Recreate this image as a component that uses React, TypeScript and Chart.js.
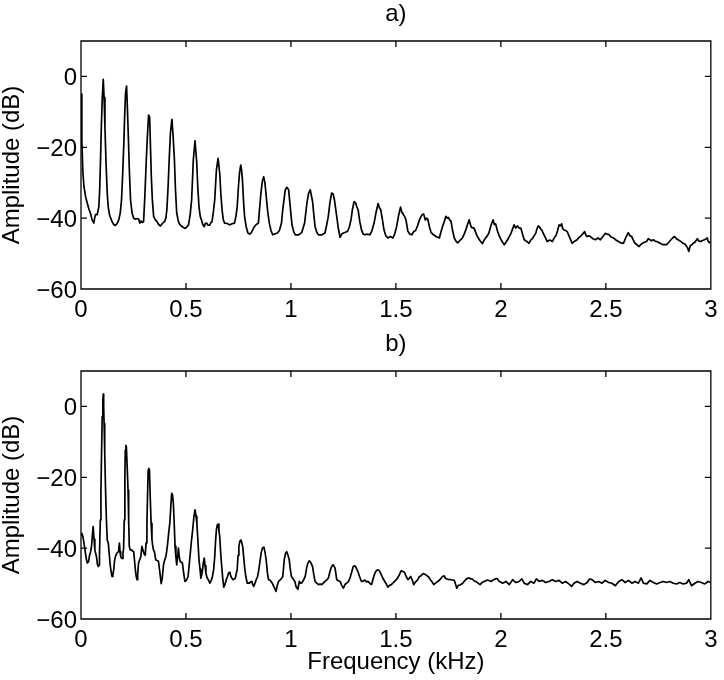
import { useEffect, useRef } from "react";
import { Chart, registerables } from "chart.js";

Chart.register(...registerables);

const X_TICKS = [0, 0.5, 1, 1.5, 2, 2.5, 3];
const Y_TICKS = [-60, -40, -20, 0];
const X_MIN = 0;
const X_MAX = 3;
const Y_MIN = -60;
const Y_MAX = 10;
const PANEL_TITLES = ["a)", "b)"];
const X_LABEL = "Frequency (kHz)";
const Y_LABEL = "Amplitude (dB)";

// [frequency kHz, amplitude dB] read from panel a)
const SPECTRUM_A: [number, number][] = [
  [0.000,-5],[0.004,-18],[0.009,-27],[0.014,-31],[0.022,-34],[0.030,-35.8],[0.038,-37.5],[0.045,-38.6],[0.053,-40.5],[0.061,-41.4],[0.065,-40],[0.069,-39],[0.077,-39],[0.085,-36.8],[0.089,-32],[0.093,-23.6],[0.097,-14],[0.101,-6.7],[0.106,-0.8],[0.110,-6],[0.114,-14.2],[0.119,-24],[0.125,-33],[0.130,-37],[0.136,-39.1],[0.148,-41],[0.156,-41.8],[0.164,-42.1],[0.172,-41.5],[0.180,-40.5],[0.187,-38.5],[0.193,-34.8],[0.199,-27],[0.204,-18.9],[0.208,-11],[0.212,-4.8],[0.217,-2.7],[0.221,-9],[0.225,-16.1],[0.230,-26],[0.236,-34.8],[0.243,-38.5],[0.251,-40],[0.260,-40.3],[0.268,-40.1],[0.275,-40.3],[0.280,-41.4],[0.286,-40.8],[0.292,-41.2],[0.298,-41],[0.304,-34],[0.311,-23.6],[0.317,-16],[0.322,-10.9],[0.327,-11.5],[0.331,-20],[0.335,-28.3],[0.340,-35],[0.346,-39.5],[0.354,-40.5],[0.362,-41],[0.370,-41.8],[0.378,-42.2],[0.388,-41.5],[0.398,-41],[0.404,-40],[0.409,-37.7],[0.415,-31],[0.420,-23.6],[0.426,-16],[0.433,-12.1],[0.439,-17],[0.445,-23.6],[0.450,-32],[0.456,-38.6],[0.464,-41],[0.472,-41.9],[0.484,-42.5],[0.496,-42.9],[0.504,-42.5],[0.512,-41.9],[0.520,-39],[0.527,-34.8],[0.535,-23.6],[0.543,-18.2],[0.551,-24],[0.556,-31],[0.562,-36.8],[0.568,-39.5],[0.574,-40.5],[0.580,-41.8],[0.587,-42.4],[0.592,-41.5],[0.598,-41.4],[0.605,-42],[0.613,-42],[0.619,-41.2],[0.624,-41],[0.630,-38.5],[0.637,-34.8],[0.645,-26.4],[0.653,-23.1],[0.661,-27.5],[0.666,-33],[0.672,-37.7],[0.678,-40.5],[0.684,-41.4],[0.696,-41.5],[0.708,-41.9],[0.720,-41.6],[0.731,-41.4],[0.738,-39.5],[0.744,-36.8],[0.750,-31],[0.755,-27.3],[0.761,-25],[0.765,-26.5],[0.769,-29.2],[0.774,-35],[0.779,-39.5],[0.787,-42.5],[0.795,-44.2],[0.803,-44.5],[0.810,-44.2],[0.818,-43.3],[0.826,-42.4],[0.835,-41.8],[0.845,-41.4],[0.851,-37],[0.857,-33],[0.864,-29.5],[0.870,-28.3],[0.876,-30],[0.881,-33],[0.889,-38],[0.897,-41.4],[0.905,-43.5],[0.913,-44.7],[0.925,-44.4],[0.936,-44.2],[0.945,-43.5],[0.955,-41.4],[0.961,-37.5],[0.967,-34.8],[0.973,-32],[0.980,-31.3],[0.989,-32],[0.997,-37],[1.005,-41.9],[1.013,-43.8],[1.021,-44.7],[1.037,-44.7],[1.052,-44],[1.065,-41.4],[1.076,-35.8],[1.084,-33],[1.092,-32],[1.103,-35.3],[1.109,-39],[1.115,-42.4],[1.123,-44],[1.131,-44.7],[1.147,-44.7],[1.162,-44.2],[1.170,-42],[1.178,-39.5],[1.186,-35.5],[1.194,-32.9],[1.201,-33.2],[1.207,-34.8],[1.218,-39.5],[1.226,-43],[1.234,-45.4],[1.242,-44.5],[1.250,-44.2],[1.260,-44],[1.270,-43.7],[1.278,-42.5],[1.286,-40.5],[1.293,-37.5],[1.301,-35.3],[1.309,-35.8],[1.312,-36.5],[1.320,-37.7],[1.328,-41],[1.336,-43.3],[1.344,-44.5],[1.352,-44.7],[1.364,-44.5],[1.376,-44.7],[1.386,-43.5],[1.396,-41.4],[1.405,-38.5],[1.415,-35.9],[1.421,-37],[1.428,-37.7],[1.436,-40.5],[1.443,-43.3],[1.452,-45],[1.462,-45.6],[1.474,-45.2],[1.486,-45.6],[1.494,-44.5],[1.502,-42.8],[1.512,-39.5],[1.522,-36.9],[1.529,-38.5],[1.533,-38.8],[1.541,-39.5],[1.548,-40.5],[1.557,-43.7],[1.566,-44.5],[1.576,-44.7],[1.585,-43.8],[1.594,-43.5],[1.604,-42],[1.612,-40.5],[1.620,-39.5],[1.626,-39],[1.632,-38.8],[1.640,-40.5],[1.646,-40],[1.652,-40.3],[1.660,-42.5],[1.667,-44],[1.679,-44.7],[1.691,-45.2],[1.707,-45.6],[1.714,-44],[1.722,-42.4],[1.730,-41],[1.738,-39.5],[1.745,-40],[1.750,-39.8],[1.756,-40.5],[1.762,-40.8],[1.770,-43.5],[1.778,-45.6],[1.786,-46.5],[1.794,-47],[1.805,-46.3],[1.817,-45.6],[1.825,-44.5],[1.833,-43.3],[1.841,-41.8],[1.849,-40.5],[1.856,-42],[1.860,-42.6],[1.872,-42.8],[1.880,-44],[1.888,-45.2],[1.900,-46.3],[1.912,-47.2],[1.920,-46.2],[1.927,-45.6],[1.935,-45],[1.943,-44.2],[1.953,-42],[1.963,-40.5],[1.969,-41.8],[1.975,-41.6],[1.983,-43.5],[1.992,-45],[2.000,-46],[2.008,-46.8],[2.016,-47.5],[2.024,-46.8],[2.032,-46.1],[2.040,-45.2],[2.048,-44.3],[2.056,-43],[2.063,-41.9],[2.071,-42.8],[2.079,-42.2],[2.087,-42.8],[2.095,-42.8],[2.103,-44.5],[2.111,-46.1],[2.122,-46.5],[2.134,-47.1],[2.142,-46.2],[2.150,-45.8],[2.158,-45],[2.166,-44.3],[2.172,-43],[2.178,-42.2],[2.184,-42.5],[2.190,-43.1],[2.196,-43.5],[2.202,-44.3],[2.212,-45.5],[2.221,-46.6],[2.233,-46.2],[2.245,-46.6],[2.255,-45.5],[2.264,-44.7],[2.270,-43.5],[2.277,-41.9],[2.283,-42.2],[2.289,-41.6],[2.295,-43],[2.300,-43.3],[2.308,-43.5],[2.316,-43.8],[2.328,-45.5],[2.339,-47.1],[2.351,-46.5],[2.363,-46.1],[2.371,-45.5],[2.379,-45.2],[2.389,-44.5],[2.399,-43.8],[2.405,-44.8],[2.410,-45.2],[2.418,-45],[2.426,-45.2],[2.438,-45.8],[2.450,-46.1],[2.462,-45.6],[2.474,-46.1],[2.486,-45.2],[2.497,-44.3],[2.505,-44.5],[2.513,-44.6],[2.525,-45.3],[2.537,-45.6],[2.548,-46.2],[2.560,-46.6],[2.572,-47],[2.584,-47.1],[2.595,-45.5],[2.607,-44.1],[2.615,-45],[2.623,-45.2],[2.631,-46.2],[2.639,-47.1],[2.648,-47.5],[2.658,-48],[2.666,-47.5],[2.674,-47.1],[2.684,-46.8],[2.694,-46.6],[2.702,-45.8],[2.710,-46.1],[2.718,-46.4],[2.726,-46.1],[2.734,-46.5],[2.742,-46.6],[2.750,-46.8],[2.758,-47.1],[2.765,-47.3],[2.773,-47.5],[2.789,-47.5],[2.800,-46.8],[2.810,-46.1],[2.818,-45.6],[2.828,-45.2],[2.836,-45.8],[2.844,-46.1],[2.855,-46.5],[2.868,-47.1],[2.876,-47.3],[2.884,-47.9],[2.890,-48.5],[2.895,-49.4],[2.902,-47.8],[2.910,-47.5],[2.917,-47],[2.923,-46.9],[2.930,-46.3],[2.936,-45.8],[2.944,-46.5],[2.952,-46.6],[2.960,-46.3],[2.970,-46.1],[2.978,-45.8],[2.983,-45.6],[2.987,-46.5],[2.993,-46.9],[3.000,-46.6]
];

// [frequency kHz, amplitude dB] read from panel b)
const SPECTRUM_B: [number, number][] = [
  [0.000,-36.3],[0.004,-35.8],[0.009,-36.7],[0.014,-38.5],[0.019,-40.5],[0.025,-43],[0.030,-44.2],[0.036,-43.8],[0.041,-42],[0.046,-41],[0.050,-39.5],[0.054,-36.5],[0.058,-33.9],[0.062,-37.5],[0.066,-40.5],[0.070,-41.5],[0.074,-42.5],[0.078,-44.5],[0.082,-45.2],[0.086,-44.8],[0.088,-42],[0.092,-32],[0.095,-23.6],[0.098,-13],[0.101,-2.9],[0.104,1.5],[0.106,3.5],[0.108,0],[0.110,-4.8],[0.113,-13],[0.117,-23.6],[0.121,-32],[0.125,-37.7],[0.130,-38.6],[0.135,-42],[0.140,-45.2],[0.144,-46.8],[0.148,-48],[0.152,-47.5],[0.156,-46],[0.160,-43.5],[0.164,-42.4],[0.170,-41.5],[0.177,-41],[0.180,-40],[0.183,-38.6],[0.186,-41],[0.189,-42.3],[0.192,-42.8],[0.196,-42.9],[0.200,-41.5],[0.203,-40],[0.206,-32],[0.209,-20],[0.211,-12.3],[0.214,-11],[0.216,-11.4],[0.220,-17],[0.224,-23.6],[0.227,-32],[0.230,-39.5],[0.235,-40.5],[0.240,-40.5],[0.246,-40.8],[0.251,-41],[0.255,-43.5],[0.259,-46.1],[0.263,-48],[0.267,-48.9],[0.270,-47.5],[0.274,-44.2],[0.280,-43.2],[0.285,-42.4],[0.290,-39.5],[0.295,-40.5],[0.300,-41.5],[0.306,-42],[0.310,-38.5],[0.314,-33],[0.317,-25],[0.320,-17.9],[0.323,-17.5],[0.326,-17.9],[0.330,-26],[0.334,-33],[0.338,-37.5],[0.341,-39.1],[0.345,-40.5],[0.350,-41],[0.356,-43.3],[0.362,-43.5],[0.369,-43.7],[0.375,-46.5],[0.382,-50],[0.387,-48.5],[0.393,-44.7],[0.398,-43.5],[0.404,-42.4],[0.408,-41],[0.413,-38.6],[0.418,-35.5],[0.423,-33],[0.428,-28],[0.432,-24.5],[0.436,-25],[0.440,-27.4],[0.444,-33],[0.448,-39.5],[0.452,-42.5],[0.456,-44.7],[0.460,-42.5],[0.464,-40],[0.468,-42.5],[0.472,-43.7],[0.478,-44],[0.483,-44.2],[0.489,-47],[0.495,-49.4],[0.503,-49],[0.510,-48],[0.519,-42.4],[0.526,-38],[0.532,-34.8],[0.538,-31],[0.543,-29.2],[0.548,-31],[0.552,-33],[0.557,-38],[0.562,-43.3],[0.567,-46],[0.571,-48.5],[0.575,-47.5],[0.579,-46.1],[0.583,-44],[0.587,-42.8],[0.591,-45],[0.595,-47],[0.600,-48.3],[0.606,-48.9],[0.614,-49.9],[0.620,-49.2],[0.626,-48],[0.632,-46],[0.637,-42.4],[0.641,-38],[0.645,-34.8],[0.649,-33.5],[0.653,-33.2],[0.657,-35],[0.661,-36.8],[0.665,-41],[0.669,-44.2],[0.675,-48.5],[0.680,-51],[0.686,-50.2],[0.692,-48.9],[0.698,-48],[0.703,-47],[0.709,-46.8],[0.714,-48],[0.719,-48.5],[0.724,-48.9],[0.730,-48.7],[0.735,-48.5],[0.740,-47],[0.744,-46.1],[0.748,-42],[0.752,-39.5],[0.757,-38],[0.762,-37.7],[0.766,-38.5],[0.770,-39.5],[0.775,-42.5],[0.779,-45.2],[0.785,-48],[0.792,-49.9],[0.798,-49.8],[0.803,-49.9],[0.808,-49.5],[0.814,-49.4],[0.818,-50.3],[0.823,-50.8],[0.829,-49.8],[0.835,-48.9],[0.841,-48],[0.847,-46.1],[0.853,-43.5],[0.858,-41.4],[0.864,-40],[0.871,-39.7],[0.876,-41],[0.882,-43.3],[0.888,-47],[0.893,-48.9],[0.899,-49],[0.905,-49.4],[0.912,-50],[0.918,-50.8],[0.924,-51.5],[0.929,-52.2],[0.935,-50.5],[0.941,-49.4],[0.950,-48.9],[0.956,-48.5],[0.961,-48],[0.965,-45.5],[0.968,-43.3],[0.974,-41.5],[0.980,-41],[0.986,-42],[0.992,-43.3],[0.996,-45.5],[1.002,-48],[1.008,-48.5],[1.013,-48.9],[1.019,-49.5],[1.024,-50.8],[1.033,-51.6],[1.040,-49.4],[1.046,-49.9],[1.052,-49.8],[1.060,-49],[1.068,-48],[1.075,-45.5],[1.081,-44.2],[1.087,-43.6],[1.092,-43.8],[1.098,-44.5],[1.103,-45.2],[1.109,-47.5],[1.115,-49.4],[1.123,-49.9],[1.131,-50.3],[1.139,-50.1],[1.147,-50.3],[1.155,-49.8],[1.162,-49.4],[1.170,-49],[1.178,-48.5],[1.185,-46.8],[1.191,-45.6],[1.197,-44.9],[1.202,-44.7],[1.206,-45.2],[1.210,-45.6],[1.218,-48.9],[1.226,-49.2],[1.234,-49.4],[1.242,-50.5],[1.250,-51.3],[1.258,-50.2],[1.265,-49.9],[1.273,-49.5],[1.281,-48.5],[1.289,-46.8],[1.297,-45.2],[1.303,-45],[1.308,-45.2],[1.314,-46],[1.320,-46.8],[1.328,-48.2],[1.336,-49.4],[1.344,-49.3],[1.352,-49],[1.360,-49.5],[1.368,-49.4],[1.376,-50],[1.384,-50.3],[1.392,-48.5],[1.399,-47.2],[1.405,-46.5],[1.412,-46.1],[1.420,-46.3],[1.428,-47.2],[1.438,-48.5],[1.447,-49.4],[1.455,-50.2],[1.462,-51],[1.470,-50.5],[1.478,-50.3],[1.490,-49.6],[1.502,-48.9],[1.514,-47.8],[1.525,-46.4],[1.533,-46.6],[1.541,-46.8],[1.549,-48],[1.557,-48.9],[1.564,-48.5],[1.570,-48],[1.578,-49],[1.585,-50.3],[1.594,-49.5],[1.604,-48.9],[1.612,-48],[1.620,-47.8],[1.627,-47.3],[1.633,-47.2],[1.641,-47.5],[1.649,-47.8],[1.657,-48.2],[1.664,-48.9],[1.672,-49.5],[1.680,-50.3],[1.690,-49.8],[1.699,-49.4],[1.708,-49],[1.715,-48.5],[1.722,-48],[1.730,-47.8],[1.736,-48.5],[1.742,-48.7],[1.750,-48.8],[1.762,-48.9],[1.770,-49],[1.778,-49.1],[1.784,-50.2],[1.790,-51.3],[1.797,-50.5],[1.805,-50.4],[1.817,-50],[1.825,-49.4],[1.833,-48.9],[1.841,-48.5],[1.849,-48.4],[1.856,-48.7],[1.864,-48.7],[1.872,-49.2],[1.880,-49.4],[1.890,-49.8],[1.901,-50.3],[1.910,-49.7],[1.920,-49.4],[1.928,-49.2],[1.936,-49],[1.945,-49.2],[1.955,-49.4],[1.962,-49],[1.970,-48.8],[1.977,-48.6],[1.983,-48.6],[1.990,-49.3],
  [2.008,-49.9],[2.024,-49.4],[2.040,-50.3],[2.056,-48.9],[2.071,-49.7],[2.087,-49.4],[2.100,-48.7],[2.111,-49.9],[2.127,-50.3],[2.142,-49.4],[2.158,-49.9],[2.169,-48.7],[2.182,-49.4],[2.198,-49.1],[2.213,-49.7],[2.229,-49.4],[2.245,-48.9],[2.261,-49.4],[2.277,-49.1],[2.292,-49.9],[2.308,-49.4],[2.324,-50.1],[2.337,-50.8],[2.348,-49.9],[2.363,-49.4],[2.379,-49.9],[2.395,-50.3],[2.411,-49.7],[2.422,-48.7],[2.434,-48.9],[2.450,-49.7],[2.466,-49.4],[2.482,-49.9],[2.497,-49.1],[2.513,-49.7],[2.529,-49.9],[2.545,-50.6],[2.561,-49.4],[2.576,-48.9],[2.592,-49.7],[2.608,-49.1],[2.624,-49.9],[2.639,-49.4],[2.655,-49.9],[2.668,-48.4],[2.679,-49.9],[2.695,-50.1],[2.710,-49.1],[2.726,-49.7],[2.742,-50.1],[2.758,-49.7],[2.774,-49.4],[2.789,-49.7],[2.805,-49.4],[2.821,-49.9],[2.837,-50.1],[2.852,-49.7],[2.868,-50.1],[2.884,-49.9],[2.895,-48.9],[2.908,-50.6],[2.924,-49.9],[2.939,-49.4],[2.955,-49.7],[2.971,-50.1],[2.987,-49.4],[3.000,-49.7]
];

const FONT_FAMILY = "'Liberation Sans', Arial, Helvetica, sans-serif";
const FONT_SIZE = 24;

const fmt = (v: number | string) => String(v).replace("-", "\u2212");

const framePlugin = {
  id: "frame",
  afterDatasetsDraw(chart: any) {
    const { ctx, chartArea: a, scales } = chart;
    const tl = 6;
    ctx.save();
    ctx.strokeStyle = "#000";
    ctx.lineWidth = 1.3;
    ctx.beginPath();
    ctx.rect(a.left, a.top, a.right - a.left, a.bottom - a.top);
    for (const t of scales.x.ticks) {
      const px = scales.x.getPixelForValue(t.value);
      ctx.moveTo(px, a.bottom);
      ctx.lineTo(px, a.bottom - tl);
      ctx.moveTo(px, a.top);
      ctx.lineTo(px, a.top + tl);
    }
    for (const t of scales.y.ticks) {
      const py = scales.y.getPixelForValue(t.value);
      ctx.moveTo(a.left, py);
      ctx.lineTo(a.left + tl, py);
      ctx.moveTo(a.right, py);
      ctx.lineTo(a.right - tl, py);
    }
    ctx.stroke();
    ctx.restore();
  },
};

function makeChart(
  canvas: HTMLCanvasElement,
  points: [number, number][],
  title: string,
  showXTitle: boolean,
  xAxisHeight: number
) {
  const font = { family: FONT_FAMILY, size: FONT_SIZE, weight: "normal" as const };
  return new Chart(canvas, {
    type: "line",
    data: {
      datasets: [
        {
          data: points.map(([x, y]) => ({ x, y })),
          borderColor: "#000",
          borderWidth: 1.7,
          borderJoinStyle: "round",
          pointRadius: 0,
          fill: false,
          tension: 0,
        },
      ],
    },
    options: {
      animation: false,
      responsive: false,
      devicePixelRatio: 1,
      layout: { padding: { left: 0, right: 9, top: 0, bottom: 0 } },
      plugins: {
        legend: { display: false },
        tooltip: { enabled: false },
        title: {
          display: true,
          text: title,
          fullSize: false,
          color: "#000",
          font,
          padding: { top: 0, bottom: 12.2 },
        },
      },
      scales: {
        x: {
          type: "linear",
          min: X_MIN,
          max: X_MAX,
          afterBuildTicks: (s: any) => {
            s.ticks = X_TICKS.map((v) => ({ value: v }));
          },
          afterFit: (s: any) => {
            s.height = xAxisHeight;
          },
          grid: { display: false, drawTicks: false },
          border: { display: false },
          ticks: {
            color: "#000",
            font,
            padding: 6.5,
            maxRotation: 0,
            autoSkip: false,
            callback: (v: any) => fmt(v),
          },
          title: {
            display: showXTitle,
            text: X_LABEL,
            color: "#000",
            font,
            padding: { top: 0, bottom: 3 },
          },
        },
        y: {
          type: "linear",
          min: Y_MIN,
          max: Y_MAX,
          afterBuildTicks: (s: any) => {
            s.ticks = Y_TICKS.map((v) => ({ value: v }));
          },
          afterFit: (s: any) => {
            s.width = 81;
          },
          grid: { display: false, drawTicks: false },
          border: { display: false },
          ticks: {
            color: "#000",
            font,
            padding: 4,
            labelOffset: 2,
            autoSkip: false,
            callback: (v: any) => fmt(v),
          },
          title: {
            display: true,
            text: Y_LABEL,
            color: "#000",
            font,
            padding: { top: -2, bottom: 0 },
          },
        },
      },
    },
    plugins: [framePlugin],
  } as any);
}

export default function App() {
  const topRef = useRef<HTMLCanvasElement>(null);
  const botRef = useRef<HTMLCanvasElement>(null);

  useEffect(() => {
    const c1 = makeChart(topRef.current!, SPECTRUM_A, PANEL_TITLES[0], false, 41);
    const c2 = makeChart(botRef.current!, SPECTRUM_B, PANEL_TITLES[1], true, 61);
    return () => {
      c1.destroy();
      c2.destroy();
    };
  }, []);

  return (
    <div
      style={{
        position: "fixed",
        left: 0,
        top: 0,
        width: 724,
        height: 680,
        background: "#fff",
      }}
    >
      <canvas
        ref={topRef}
        width={724}
        height={330}
        style={{ position: "absolute", left: 0, top: 0, width: 724, height: 330, display: "block" }}
      />
      <canvas
        ref={botRef}
        width={724}
        height={350}
        style={{ position: "absolute", left: 0, top: 330, width: 724, height: 350, display: "block" }}
      />
    </div>
  );
}
